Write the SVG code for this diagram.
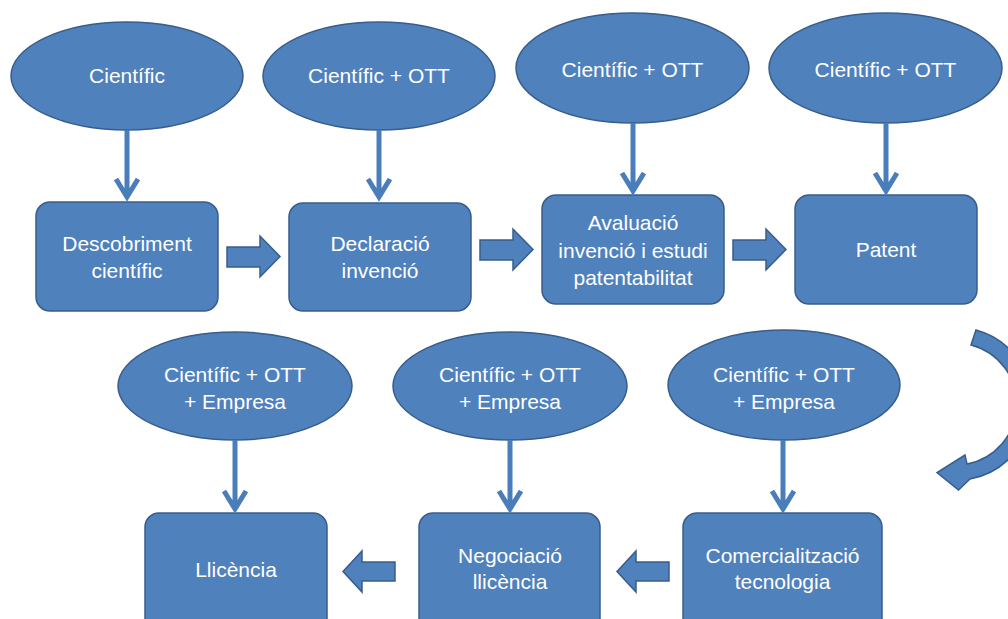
<svg xmlns="http://www.w3.org/2000/svg" width="1008" height="619" viewBox="0 0 1008 619">
  <style>
    .shape { fill: #4F81BD; stroke: #385D8A; stroke-width: 1.5; }
    .label { fill: #FFFFFF; font-family: "Liberation Sans", Arial, sans-serif; font-size: 21px; text-anchor: middle; }
    .conn { fill: none; stroke: #4A7EBB; stroke-width: 5; }
    .block { fill: #4F81BD; stroke: #385D8A; stroke-width: 1.5; stroke-linejoin: miter; }
  </style>
  <rect width="1008" height="619" fill="#FFFFFF"/>

  <!-- actors (top row) -->
  <g id="actor-1">
    <ellipse class="shape" cx="127" cy="76" rx="116" ry="54"/>
    <text class="label" x="127" y="83">Científic</text>
  </g>
  <g id="actor-2">
    <ellipse class="shape" cx="379" cy="76" rx="116" ry="54"/>
    <text class="label" x="379" y="83">Científic + OTT</text>
  </g>
  <g id="actor-3">
    <ellipse class="shape" cx="632.5" cy="68" rx="116.5" ry="55"/>
    <text class="label" x="632.5" y="77">Científic + OTT</text>
  </g>
  <g id="actor-4">
    <ellipse class="shape" cx="885.5" cy="68" rx="116.5" ry="55"/>
    <text class="label" x="885.5" y="77">Científic + OTT</text>
  </g>

  <!-- steps (top row) -->
  <g id="step-descobriment">
    <rect class="shape" x="36" y="202" width="182" height="109" rx="14"/>
    <text class="label" x="127" y="251">Descobriment</text>
    <text class="label" x="127" y="278">científic</text>
  </g>
  <g id="step-declaracio">
    <rect class="shape" x="289" y="203" width="182" height="108" rx="14"/>
    <text class="label" x="380" y="251">Declaració</text>
    <text class="label" x="380" y="278">invenció</text>
  </g>
  <g id="step-avaluacio">
    <rect class="shape" x="542" y="195" width="182" height="109" rx="14"/>
    <text class="label" x="633" y="230">Avaluació</text>
    <text class="label" x="633" y="258">invenció i estudi</text>
    <text class="label" x="633" y="285">patentabilitat</text>
  </g>
  <g id="step-patent">
    <rect class="shape" x="795" y="195" width="182" height="109" rx="14"/>
    <text class="label" x="886" y="257">Patent</text>
  </g>

  <!-- actors (bottom row) -->
  <g id="actor-5">
    <ellipse class="shape" cx="235" cy="386" rx="117" ry="54"/>
    <text class="label" x="235" y="382">Científic + OTT</text>
    <text class="label" x="235" y="409">+ Empresa</text>
  </g>
  <g id="actor-6">
    <ellipse class="shape" cx="510" cy="386" rx="117" ry="54"/>
    <text class="label" x="510" y="382">Científic + OTT</text>
    <text class="label" x="510" y="409">+ Empresa</text>
  </g>
  <g id="actor-7">
    <ellipse class="shape" cx="784" cy="385" rx="116" ry="55"/>
    <text class="label" x="784" y="382">Científic + OTT</text>
    <text class="label" x="784" y="409">+ Empresa</text>
  </g>

  <!-- steps (bottom row) -->
  <g id="step-llicencia">
    <rect class="shape" x="145" y="513" width="182" height="120" rx="14"/>
    <text class="label" x="236" y="577">Llicència</text>
  </g>
  <g id="step-negociacio">
    <rect class="shape" x="419" y="513" width="181" height="120" rx="14"/>
    <text class="label" x="510" y="563">Negociació</text>
    <text class="label" x="510" y="589">llicència</text>
  </g>
  <g id="step-comercialitzacio">
    <rect class="shape" x="683" y="513" width="199" height="120" rx="14"/>
    <text class="label" x="782.5" y="563">Comercialització</text>
    <text class="label" x="782.5" y="589">tecnologia</text>
  </g>

  <!-- connectors -->
  <g id="connectors">
    <!-- actor to step -->
    <path class="conn" d="M127,130 V197 M116,179 L127,197 L138,179"/>
    <path class="conn" d="M379,130 V197 M368,179 L379,197 L390,179"/>
    <path class="conn" d="M633,123 V191 M622,173 L633,191 L644,173"/>
    <path class="conn" d="M886,123 V191 M875,173 L886,191 L897,173"/>
    <path class="conn" d="M235,440 V509 M224,491 L235,509 L246,491"/>
    <path class="conn" d="M510,440 V509 M499,491 L510,509 L521,491"/>
    <path class="conn" d="M783,440 V509 M772,491 L783,509 L794,491"/>

    <!-- step to step (block arrows) -->
    <path class="block" d="M227,247 H260 V236 L280,256.5 L260,277 V267 H227 Z"/>
    <path class="block" d="M480,240 H513 V229 L533,249.5 L513,270 V260 H480 Z"/>
    <path class="block" d="M733,240 H766 V229 L786,249.5 L766,270 V260 H733 Z"/>
    <path class="block" d="M395,562 H362 V551 L343,571.5 L362,592 V581 H395 Z"/>
    <path class="block" d="M669,562 H636 V551 L617,571.5 L636,592 V581 H669 Z"/>

    <!-- row change (curved arrow) -->
    <path class="block" fill="#4F81BD" stroke="#385D8A" d="M976,330 A76.5,76.5 0 0 1 970,479 L958.5,490 L937,472.5 L965,455 L967,464 A61,61 0 0 0 971,345 Z"/>
  </g>
</svg>
